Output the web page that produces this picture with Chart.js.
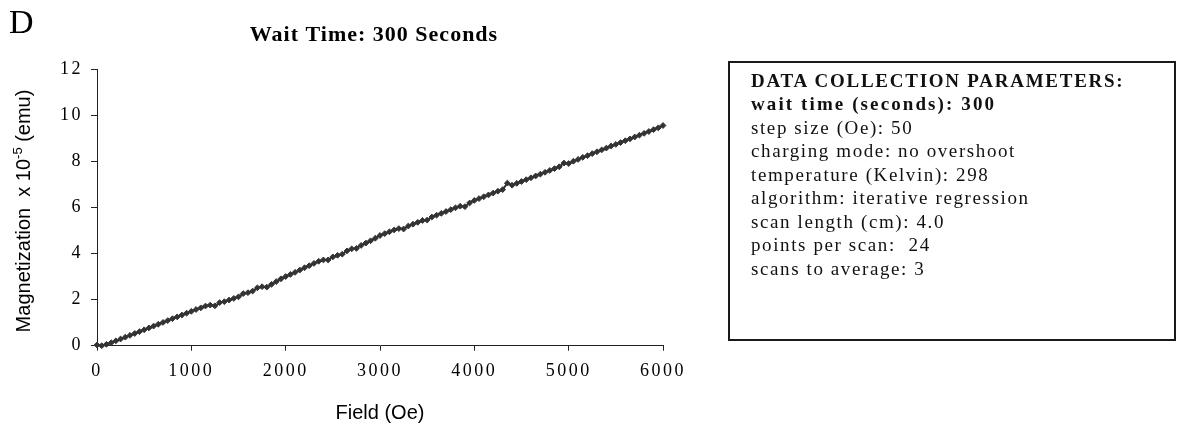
<!DOCTYPE html>
<html>
<head>
<meta charset="utf-8">
<title>Wait Time: 300 Seconds</title>
<script src="https://cdn.jsdelivr.net/npm/chart.js@4.4.1/dist/chart.umd.min.js"></script>
<style>
  html, body { margin: 0; padding: 0; background: #fff; }
  #wrap { position: relative; width: 1177px; height: 423px; overflow: hidden; }
  #chart { position: absolute; left: 0; top: 0; }
  #params {
    position: absolute; left: 728px; top: 61px; width: 423px; height: 270px;
    border: 2px solid #1a1a1a; padding: 6px 0 0 21px;
    font-family: "Liberation Serif", "Times New Roman", serif; font-size: 19px;
    letter-spacing: 1.6px; color: #111;
  }
  #params div { line-height: 23.45px; white-space: pre; }
  #params .b { font-weight: bold; letter-spacing: 2.1px; }
  #params .h { font-weight: bold; letter-spacing: 1.75px; }
</style>
</head>
<body>
<div id="wrap">
  <canvas id="chart" width="1177" height="423"></canvas>
  <div id="params"></div>
</div>
<script>
// ---- data ----
const fields = [
  0, 50, 100, 150, 200, 250, 300, 350, 400, 450,
  500, 550, 600, 650, 700, 750, 800, 850, 900, 950,
  1000, 1050, 1100, 1150, 1200, 1250, 1300, 1350, 1400, 1450,
  1500, 1550, 1600, 1650, 1700, 1750, 1800, 1850, 1900, 1950,
  2000, 2050, 2100, 2150, 2200, 2250, 2300, 2350, 2400, 2450,
  2500, 2550, 2600, 2650, 2700, 2750, 2800, 2850, 2900, 2950,
  3000, 3050, 3100, 3150, 3200, 3250, 3300, 3350, 3400, 3450,
  3500, 3550, 3600, 3650, 3700, 3750, 3800, 3850, 3900, 3950,
  4000, 4050, 4100, 4150, 4200, 4250, 4300, 4350, 4400, 4450,
  4500, 4550, 4600, 4650, 4700, 4750, 4800, 4850, 4900, 4950,
  5000, 5050, 5100, 5150, 5200, 5250, 5300, 5350, 5400, 5450,
  5500, 5550, 5600, 5650, 5700, 5750, 5800, 5850, 5900, 5950,
  6000
];
const magnetization = [
  0.03, 0.00, 0.06, 0.13, 0.21, 0.29, 0.37, 0.45, 0.53, 0.61,
  0.69, 0.77, 0.85, 0.93, 1.01, 1.09, 1.17, 1.25, 1.33, 1.41,
  1.49, 1.57, 1.64, 1.72, 1.76, 1.73, 1.87, 1.91, 1.98, 2.05,
  2.12, 2.26, 2.30, 2.37, 2.51, 2.56, 2.54, 2.66, 2.78, 2.90,
  3.00, 3.09, 3.18, 3.28, 3.38, 3.47, 3.57, 3.66, 3.72, 3.72,
  3.85, 3.92, 3.97, 4.11, 4.20, 4.22, 4.35, 4.45, 4.55, 4.66,
  4.78, 4.86, 4.94, 5.02, 5.08, 5.06, 5.19, 5.27, 5.35, 5.43,
  5.45, 5.58, 5.66, 5.74, 5.82, 5.90, 5.98, 6.05, 6.03, 6.19,
  6.30, 6.38, 6.46, 6.54, 6.62, 6.70, 6.77, 7.05, 6.96, 7.04,
  7.12, 7.20, 7.28, 7.36, 7.44, 7.52, 7.60, 7.68, 7.76, 7.92,
  7.90, 8.00, 8.08, 8.17, 8.24, 8.33, 8.41, 8.49, 8.57, 8.66,
  8.73, 8.81, 8.89, 8.97, 9.05, 9.13, 9.21, 9.29, 9.37, 9.45,
  9.55
];
const xTicks = [0, 1000, 2000, 3000, 4000, 5000, 6000];
const yTicks = [0, 2, 4, 6, 8, 10, 12];

const paramLines = [
  ['DATA COLLECTION PARAMETERS:', 'h'],
  ['wait time (seconds): 300', 'b'],
  ['step size (Oe): 50', ''],
  ['charging mode: no overshoot', ''],
  ['temperature (Kelvin): 298', ''],
  ['algorithm: iterative regression', ''],
  ['scan length (cm): 4.0', ''],
  ['points per scan:  24', ''],
  ['scans to average: 3', ''],
];

// ---- parameters box ----
document.getElementById('params').innerHTML = paramLines
  .map(([t, cls]) => `<div class="${cls}">${t}</div>`).join('');

// ---- extra texts drawn onto the canvas ----
const serif = '"Liberation Serif", "Times New Roman", serif';
const sans = '"Liberation Sans", Arial, sans-serif';

const spacingPlugin = {
  id: 'spacing',
  beforeDraw(chart) { chart.ctx.letterSpacing = '2.5px'; }
};

const labelsPlugin = {
  id: 'labels',
  afterDraw(chart) {
    const ctx = chart.ctx;
    ctx.save();
    ctx.letterSpacing = '0px';
    ctx.fillStyle = '#000';
    ctx.textBaseline = 'alphabetic';

    // panel letter
    ctx.font = '34px ' + serif;
    ctx.textAlign = 'left';
    ctx.fillText('D', 9, 33);

    // title
    ctx.font = 'bold 22px ' + serif;
    ctx.letterSpacing = '1px';
    ctx.textAlign = 'center';
    ctx.fillText('Wait Time: 300 Seconds', 374, 41);
    ctx.letterSpacing = '0px';

    // x axis title
    ctx.font = '20px ' + sans;
    ctx.fillText('Field (Oe)', 380, 419);

    // y axis title with superscript
    const p1 = 'Magnetization  x 10', sup = '-5', p2 = ' (emu)';
    ctx.font = '20px ' + sans;
    const w1 = ctx.measureText(p1).width, w3 = ctx.measureText(p2).width;
    ctx.font = '13px ' + sans;
    const w2 = ctx.measureText(sup).width;
    const total = w1 + w2 + w3;
    ctx.translate(30, 211);
    ctx.rotate(-Math.PI / 2);
    ctx.textAlign = 'left';
    let x = -total / 2;
    ctx.font = '20px ' + sans;
    ctx.fillText(p1, x, 0); x += w1;
    ctx.font = '13px ' + sans;
    ctx.fillText(sup, x, -8); x += w2;
    ctx.font = '20px ' + sans;
    ctx.fillText(p2, x, 0);
    ctx.restore();
  }
};

new Chart(document.getElementById('chart'), {
  type: 'line',
  data: {
    datasets: [{
      data: fields.map((f, i) => ({ x: f, y: magnetization[i] })),
      borderColor: '#333',
      borderWidth: 2,
      pointStyle: 'rectRot',
      pointRadius: 2.9,
      pointBackgroundColor: '#333',
      pointBorderColor: '#333',
      pointBorderWidth: 1,
      tension: 0,
      clip: false,
    }]
  },
  options: {
    responsive: false,
    animation: false,
    layout: { padding: { left: 0, top: 69, right: 514, bottom: 0 } },
    plugins: { legend: { display: false }, tooltip: { enabled: false }, title: { display: false } },
    scales: {
      x: {
        type: 'linear', min: 0, max: 6000,
        afterFit: s => { s.height = 77.3; },
        afterBuildTicks: s => { s.ticks = xTicks.map(v => ({ value: v })); },
        grid: { drawOnChartArea: false, drawTicks: true, tickLength: 5, tickColor: '#222' },
        border: { display: true, color: '#222', width: 1 },
        ticks: { color: '#000', padding: 10, maxRotation: 0, autoSkip: false,
                 callback: v => String(v),
                 font: { family: serif, size: 18 } },
      },
      y: {
        min: 0, max: 12,
        afterFit: s => { s.width = 97; },
        afterBuildTicks: s => { s.ticks = yTicks.map(v => ({ value: v })); },
        grid: { drawOnChartArea: false, drawTicks: true, tickLength: 6, tickColor: '#222' },
        border: { display: true, color: '#222', width: 1 },
        ticks: { color: '#000', padding: 8, callback: v => String(v),
                 font: { family: serif, size: 18 } },
      },
    },
  },
  plugins: [spacingPlugin, labelsPlugin],
});
</script>
</body>
</html>
